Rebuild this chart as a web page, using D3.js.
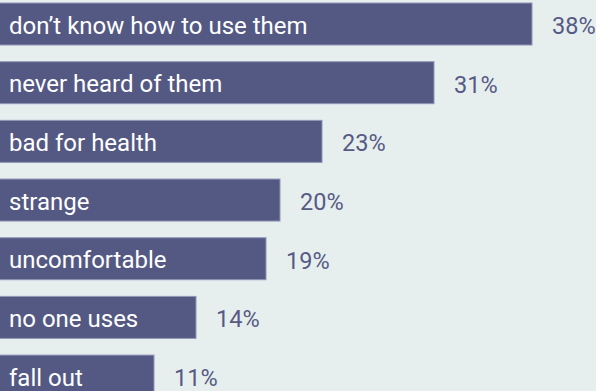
<!DOCTYPE html>
<html>
<head>
<meta charset="utf-8">
<script src="https://cdn.jsdelivr.net/npm/d3@7"></script>
<style>
  html, body { margin: 0; padding: 0; background: #e6efee; }
  svg { display: block; }
</style>
</head>
<body>
<div id="chart"></div>
<script>
// reasons given, share of respondents in %
var reasons = ["don\u2019t know how to use them", "never heard of them", "bad for health",
               "strange", "uncomfortable", "no one uses", "fall out"];
var shares = [38, 31, 23, 20, 19, 14, 11];

var width = 596, height = 391;
var barColor = "#545983";

var svg = d3.select("#chart").append("svg")
    .attr("width", width)
    .attr("height", height);

svg.append("rect")
    .attr("width", width).attr("height", height)
    .attr("fill", "#e6efee");

var x = d3.scaleLinear().domain([0, 38]).range([0, 532]);

// band scale: step ~58.7px, bars 42px high
var y = d3.scaleBand()
    .domain(reasons)
    .range([3 - 8.3, 3 - 8.3 + 58.67 * reasons.length])
    .paddingInner(16.67 / 58.67)
    .paddingOuter(8.3 / 58.67);

var data = reasons.map(function(r, i) { return { naam: r, score: shares[i] }; });

var g = svg.selectAll("g.bar")
    .data(data).enter()
    .append("g")
    .attr("class", "bar");

g.append("rect")
    .attr("x", -1)
    .attr("y", function(d) { return y(d.naam); })
    .attr("width", function(d) { return x(d.score) + 1; })
    .attr("height", y.bandwidth())
    .attr("fill", barColor)
    .attr("stroke", "#9296b8")
    .attr("stroke-width", 1);

g.append("text")
    .attr("x", 9)
    .attr("y", function(d) { return y(d.naam) + y.bandwidth() / 2 + 9.5; })
    .attr("fill", "white")
    .attr("font-family", "Roboto, sans-serif")
    .attr("font-size", "24px")
    .text(function(d) { return d.naam; });

g.append("text")
    .attr("x", function(d) { return x(d.score) + 20; })
    .attr("y", function(d) { return y(d.naam) + y.bandwidth() / 2 + 10; })
    .attr("fill", "#565a85")
    .attr("font-family", "Roboto, sans-serif")
    .attr("font-size", "23.5px")
    .text(function(d) { return d.score + "%"; });
</script>
</body>
</html>
